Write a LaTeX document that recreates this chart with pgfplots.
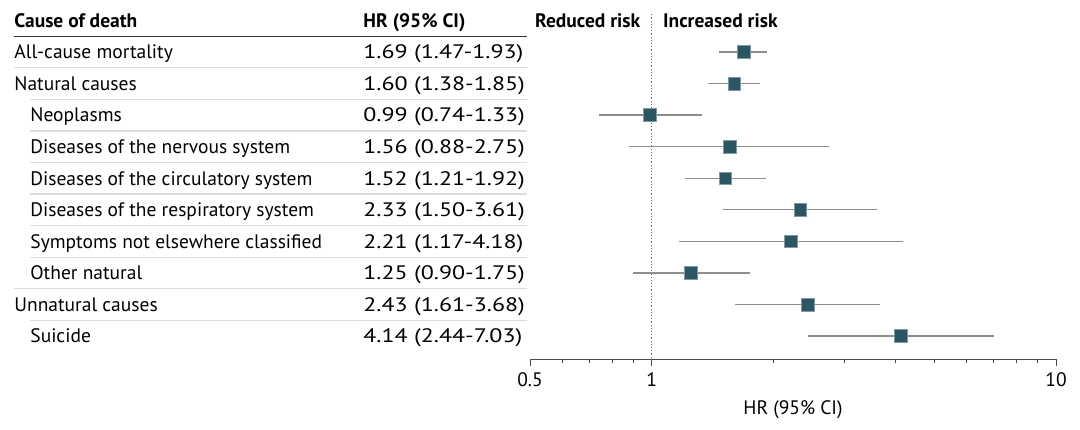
\documentclass[border=0pt]{standalone}
\usepackage{fontspec}
\setmainfont{PT Sans}
\newfontfamily\valfont{PT Sans}[FakeStretch=1.23]
\usepackage{pgfplots}
\usepackage{pgfplotstable}
\pgfplotsset{compat=1.18}

\definecolor{sq}{HTML}{2D5664}
\definecolor{ci}{HTML}{8E8E8E}
\definecolor{rule}{HTML}{DCDCDC}

% row, hazard ratio, lower and upper 95% CI
\pgfplotstableread{
row hr lo hi
1 1.69 1.47 1.93
2 1.60 1.38 1.85
3 0.99 0.74 1.33
4 1.56 0.88 2.75
5 1.52 1.21 1.92
6 2.33 1.50 3.61
7 2.21 1.17 4.18
8 1.25 0.90 1.75
9 2.43 1.61 3.68
10 4.14 2.44 7.03
}\hrdata

\tikzset{cell/.style={anchor=base west, inner sep=0pt, yshift=-3.4pt},
         val/.style={cell, font=\valfont}}

\begin{document}
\fontsize{9.75}{12}\selectfont
\begin{tikzpicture}
\useasboundingbox (0,-35pt) rectangle (540pt,179.5pt);

% table on the left
\begin{axis}[
    at={(0,0)}, anchor=south west,
    scale only axis, width=265pt, height=179.5pt,
    xmin=0, xmax=530, ymin=-0.65, ymax=10.73,
    y dir=reverse, hide axis, clip=false]
  \addplot[black!80, line width=0.6pt] coordinates {(14,0.5) (527,0.5)};
  \addplot[rule, line width=0.6pt] coordinates {(14,1.5) (527,1.5)};
  \addplot[rule, line width=0.6pt] coordinates {(30,2.5) (527,2.5)};
  \addplot[rule, line width=0.6pt] coordinates {(30,3.5) (527,3.5)};
  \addplot[rule, line width=0.6pt] coordinates {(30,4.5) (527,4.5)};
  \addplot[rule, line width=0.6pt] coordinates {(30,5.5) (527,5.5)};
  \addplot[rule, line width=0.6pt] coordinates {(30,6.5) (527,6.5)};
  \addplot[rule, line width=0.6pt] coordinates {(30,7.5) (527,7.5)};
  \addplot[rule, line width=0.6pt] coordinates {(14,8.5) (527,8.5)};
  \addplot[rule, line width=0.6pt] coordinates {(30,9.5) (527,9.5)};

  \node[cell, font=\bfseries] at (axis cs:14,0) {Cause of death};
  \node[cell, font=\bfseries] at (axis cs:363,0) {HR (95\% CI)};

  \node[cell] at (axis cs:14,1) {All-cause mortality};
  \node[cell] at (axis cs:14,2) {Natural causes};
  \node[cell] at (axis cs:30,3) {Neoplasms};
  \node[cell] at (axis cs:30,4) {Diseases of the nervous system};
  \node[cell] at (axis cs:30,5) {Diseases of the circulatory system};
  \node[cell] at (axis cs:30,6) {Diseases of the respiratory system};
  \node[cell] at (axis cs:30,7) {Symptoms not elsewhere classified};
  \node[cell] at (axis cs:30,8) {Other natural};
  \node[cell] at (axis cs:14,9) {Unnatural causes};
  \node[cell] at (axis cs:30,10) {Suicide};

  \node[val] at (axis cs:363,1) {1.69 (1.47-1.93)};
  \node[val] at (axis cs:363,2) {1.60 (1.38-1.85)};
  \node[val] at (axis cs:363,3) {0.99 (0.74-1.33)};
  \node[val] at (axis cs:363,4) {1.56 (0.88-2.75)};
  \node[val] at (axis cs:363,5) {1.52 (1.21-1.92)};
  \node[val] at (axis cs:363,6) {2.33 (1.50-3.61)};
  \node[val] at (axis cs:363,7) {2.21 (1.17-4.18)};
  \node[val] at (axis cs:363,8) {1.25 (0.90-1.75)};
  \node[val] at (axis cs:363,9) {2.43 (1.61-3.68)};
  \node[val] at (axis cs:363,10) {4.14 (2.44-7.03)};
\end{axis}

% forest plot on the right
\begin{axis}[
    at={(265pt,0)}, anchor=south west,
    scale only axis, width=263pt, height=179.5pt,
    xmode=log, xmin=0.5, xmax=10,
    ymin=-0.65, ymax=10.73, y dir=reverse,
    axis x line=bottom, axis y line=none,
    axis line style={black!70, -},
    xtick={0.5,1,10}, xticklabels={0.5,1,10},
    minor xtick={0.6,0.7,0.8,0.9,2,3,4,5,6,7,8,9},
    tick align=outside,
    major tick length=3.6pt, minor tick length=2.2pt,
    tick style={black!70, line width=0.5pt},
    /pgf/number format/assume math mode=true,
    xlabel={HR (95\% CI)},
    clip=false]
  \addplot[black!60, densely dotted, line width=0.6pt] coordinates {(1,-0.2) (1,10.73)};

  \addplot[draw=none, mark=none,
      error bars/.cd, x dir=both, x explicit,
      error bar style={ci, line width=0.7pt}, error mark=none]
    table[x=hr, y=row,
          x error plus expr=\thisrow{hi}-\thisrow{hr},
          x error minus expr=\thisrow{hr}-\thisrow{lo}] {\hrdata};

  \addplot[only marks, mark=square*, mark size=3.2pt,
      mark options={fill=sq, draw=sq!60!white, line width=0.3pt}]
    table[x=hr, y=row] {\hrdata};

  \node[inner sep=0pt, anchor=base east, yshift=-3.4pt, xshift=-5.5pt, font=\bfseries]
    at (axis cs:1,0) {Reduced risk};
  \node[inner sep=0pt, anchor=base west, yshift=-3.4pt, xshift=5.5pt, font=\bfseries]
    at (axis cs:1,0) {Increased risk};
\end{axis}
\end{tikzpicture}
\end{document}
